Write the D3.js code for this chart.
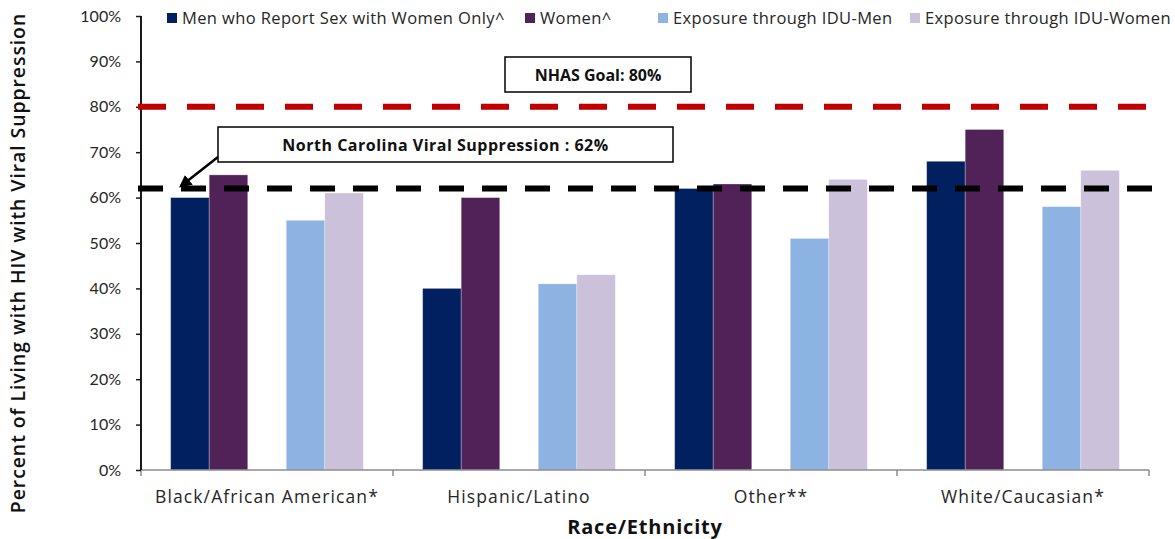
<!DOCTYPE html>
<html>
<head>
<meta charset="utf-8">
<script src="https://cdn.jsdelivr.net/npm/d3@7/dist/d3.min.js"></script>
<style>
  html, body { margin: 0; padding: 0; background: #fff; }
  svg { display: block; font-family: "Open Sans", Lato, sans-serif; }
</style>
</head>
<body>
<svg id="chart" width="1175" height="539"></svg>
<script>
// ---- data ----
const categories = ["Black/African American*", "Hispanic/Latino", "Other**", "White/Caucasian*"];
const seriesNames = ["Men who Report Sex with Women Only^", "Women^", "Exposure through IDU-Men", "Exposure through IDU-Women"];
const seriesColors = ["#002060", "#512258", "#8DB3E2", "#CCC1DA"];
const menSexWomen = [60, 40, 62, 68];
const women = [65, 60, 63, 75];
const iduMen = [55, 41, 51, 58];
const iduWomen = [61, 43, 64, 66];
const seriesValues = [menSexWomen, women, iduMen, iduWomen];
const yTicks = [0, 10, 20, 30, 40, 50, 60, 70, 80, 90, 100];
const nhasGoal = 80;
const ncSuppression = 62;
const nhasLabel = "NHAS Goal: 80%";
const ncLabel = "North Carolina Viral Suppression : 62%";
const yTitle = "Percent of Living with HIV with Viral Suppression";
const xTitle = "Race/Ethnicity";

// ---- layout ----
const svg = d3.select("#chart");
const plotLeft = 141, plotRight = 1149, plotTop = 16, plotBottom = 470;

const y = d3.scaleLinear().domain([0, 100]).range([plotBottom, plotTop]);
const x0 = d3.scaleBand().domain(categories).range([plotLeft, plotRight]).paddingInner(0).paddingOuter(0);
const slots = ["s0", "s1", "gap", "s2", "s3"];
const x1 = d3.scaleBand().domain(slots).range([0, x0.bandwidth()]).paddingInner(0).paddingOuter(0.77);
const seriesSlot = ["s0", "s1", "s2", "s3"];

// ---- bars ----
const barData = [];
categories.forEach((c, ci) => {
  seriesValues.forEach((vals, si) => {
    barData.push({ cat: c, si: si, v: vals[ci] });
  });
});
svg.append("g").selectAll("rect").data(barData).enter().append("rect")
  .attr("x", d => x0(d.cat) + x1(seriesSlot[d.si]))
  .attr("width", x1.bandwidth())
  .attr("y", d => y(d.v))
  .attr("height", d => y(0) - y(d.v))
  .attr("fill", d => seriesColors[d.si])
  .attr("stroke", "#ffffff")
  .attr("stroke-opacity", 0.35)
  .attr("stroke-width", 0.8);

// ---- x axis ----
const xAxisG = svg.append("g").attr("transform", `translate(0,${plotBottom})`);
xAxisG.append("line").attr("x1", plotLeft).attr("x2", plotRight).attr("y1", 0).attr("y2", 0)
  .attr("stroke", "#8c8c8c").attr("stroke-width", 1.5);
const boundaries = categories.map(c => x0(c)).concat([x0(categories[categories.length - 1]) + x0.bandwidth()]);
xAxisG.selectAll("line.tk").data(boundaries).enter().append("line").attr("class", "tk")
  .attr("x1", d => d).attr("x2", d => d).attr("y1", 0).attr("y2", 6)
  .attr("stroke", "#8c8c8c").attr("stroke-width", 1.5);
xAxisG.selectAll("text").data(categories).enter().append("text")
  .attr("x", d => x0(d) + x0.bandwidth() / 2)
  .attr("y", 33)
  .attr("text-anchor", "middle")
  .attr("font-size", 17.5)
  .attr("letter-spacing", 1.1)
  .attr("fill", "#262626")
  .text(d => d);

// ---- y axis ----
const yAxis = d3.axisLeft(y).tickValues(yTicks).tickFormat(d => d + "%").tickSize(5).tickPadding(15);
const yAxisG = svg.append("g").attr("transform", `translate(${plotLeft},0)`).call(yAxis);
yAxisG.select(".domain").attr("stroke", "#1a1a1a").attr("stroke-width", 2).attr("d", `M0,${plotTop}V${plotBottom}`);
yAxisG.selectAll(".tick line").attr("stroke", "#1a1a1a").attr("stroke-width", 1.5);
yAxisG.selectAll(".tick text").attr("font-size", 16).attr("fill", "#262626")
  .attr("font-family", "Lato, sans-serif");

// ---- reference lines ----
svg.append("line")
  .attr("x1", 138).attr("x2", 1152).attr("y1", y(nhasGoal)).attr("y2", y(nhasGoal))
  .attr("stroke", "#C00000").attr("stroke-width", 6).attr("stroke-dasharray", "28,21");
svg.append("line")
  .attr("x1", 138).attr("x2", 1160).attr("y1", y(ncSuppression)).attr("y2", y(ncSuppression))
  .attr("stroke", "#000000").attr("stroke-width", 6).attr("stroke-dasharray", "25,18");

// ---- annotation boxes ----
function box(x, yTop, w, h, label, spacing) {
  const g = svg.append("g");
  g.append("rect").attr("x", x).attr("y", yTop).attr("width", w).attr("height", h)
    .attr("fill", "#fff").attr("stroke", "#000").attr("stroke-width", 1.5);
  g.append("text").attr("x", x + w / 2).attr("y", yTop + h / 2 + 6)
    .attr("text-anchor", "middle").attr("font-size", 16).attr("font-weight", "bold")
    .attr("letter-spacing", spacing)
    .attr("fill", "#111").text(label);
}
box(505, 57, 186, 35, nhasLabel, 0);
box(218, 127, 455, 35, ncLabel, 0.5);

// arrow
const defs = svg.append("defs");
defs.append("marker").attr("id", "arrow").attr("viewBox", "0 0 10 10").attr("refX", 8).attr("refY", 5)
  .attr("markerWidth", 5).attr("markerHeight", 5).attr("orient", "auto")
  .append("path").attr("d", "M0,0L10,5L0,10z").attr("fill", "#000");
svg.append("line").attr("x1", 218).attr("y1", 157).attr("x2", 181).attr("y2", 186)
  .attr("stroke", "#000").attr("stroke-width", 2.5).attr("marker-end", "url(#arrow)");

// ---- legend ----
const legendX = [167, 525, 658, 910];
const legend = svg.append("g");
seriesNames.forEach((name, i) => {
  legend.append("rect").attr("x", legendX[i]).attr("y", 13).attr("width", 10).attr("height", 10)
    .attr("fill", seriesColors[i]);
  legend.append("text").attr("x", legendX[i] + 15).attr("y", 24).attr("font-size", 16.5)
    .attr("letter-spacing", 0.38)
    .attr("fill", "#262626").text(name);
});

// ---- axis titles ----
svg.append("text").attr("transform", `translate(25,${(plotTop + plotBottom) / 2 + 20}) rotate(-90)`)
  .attr("text-anchor", "middle").attr("font-size", 19.5).attr("font-weight", 600)
  .attr("letter-spacing", 0.9)
  .attr("fill", "#111").text(yTitle);
svg.append("text").attr("x", (plotLeft + plotRight) / 2).attr("y", 534)
  .attr("text-anchor", "middle").attr("font-size", 20).attr("font-weight", "bold")
  .attr("letter-spacing", 0.8)
  .attr("fill", "#111").text(xTitle);
</script>
</body>
</html>
